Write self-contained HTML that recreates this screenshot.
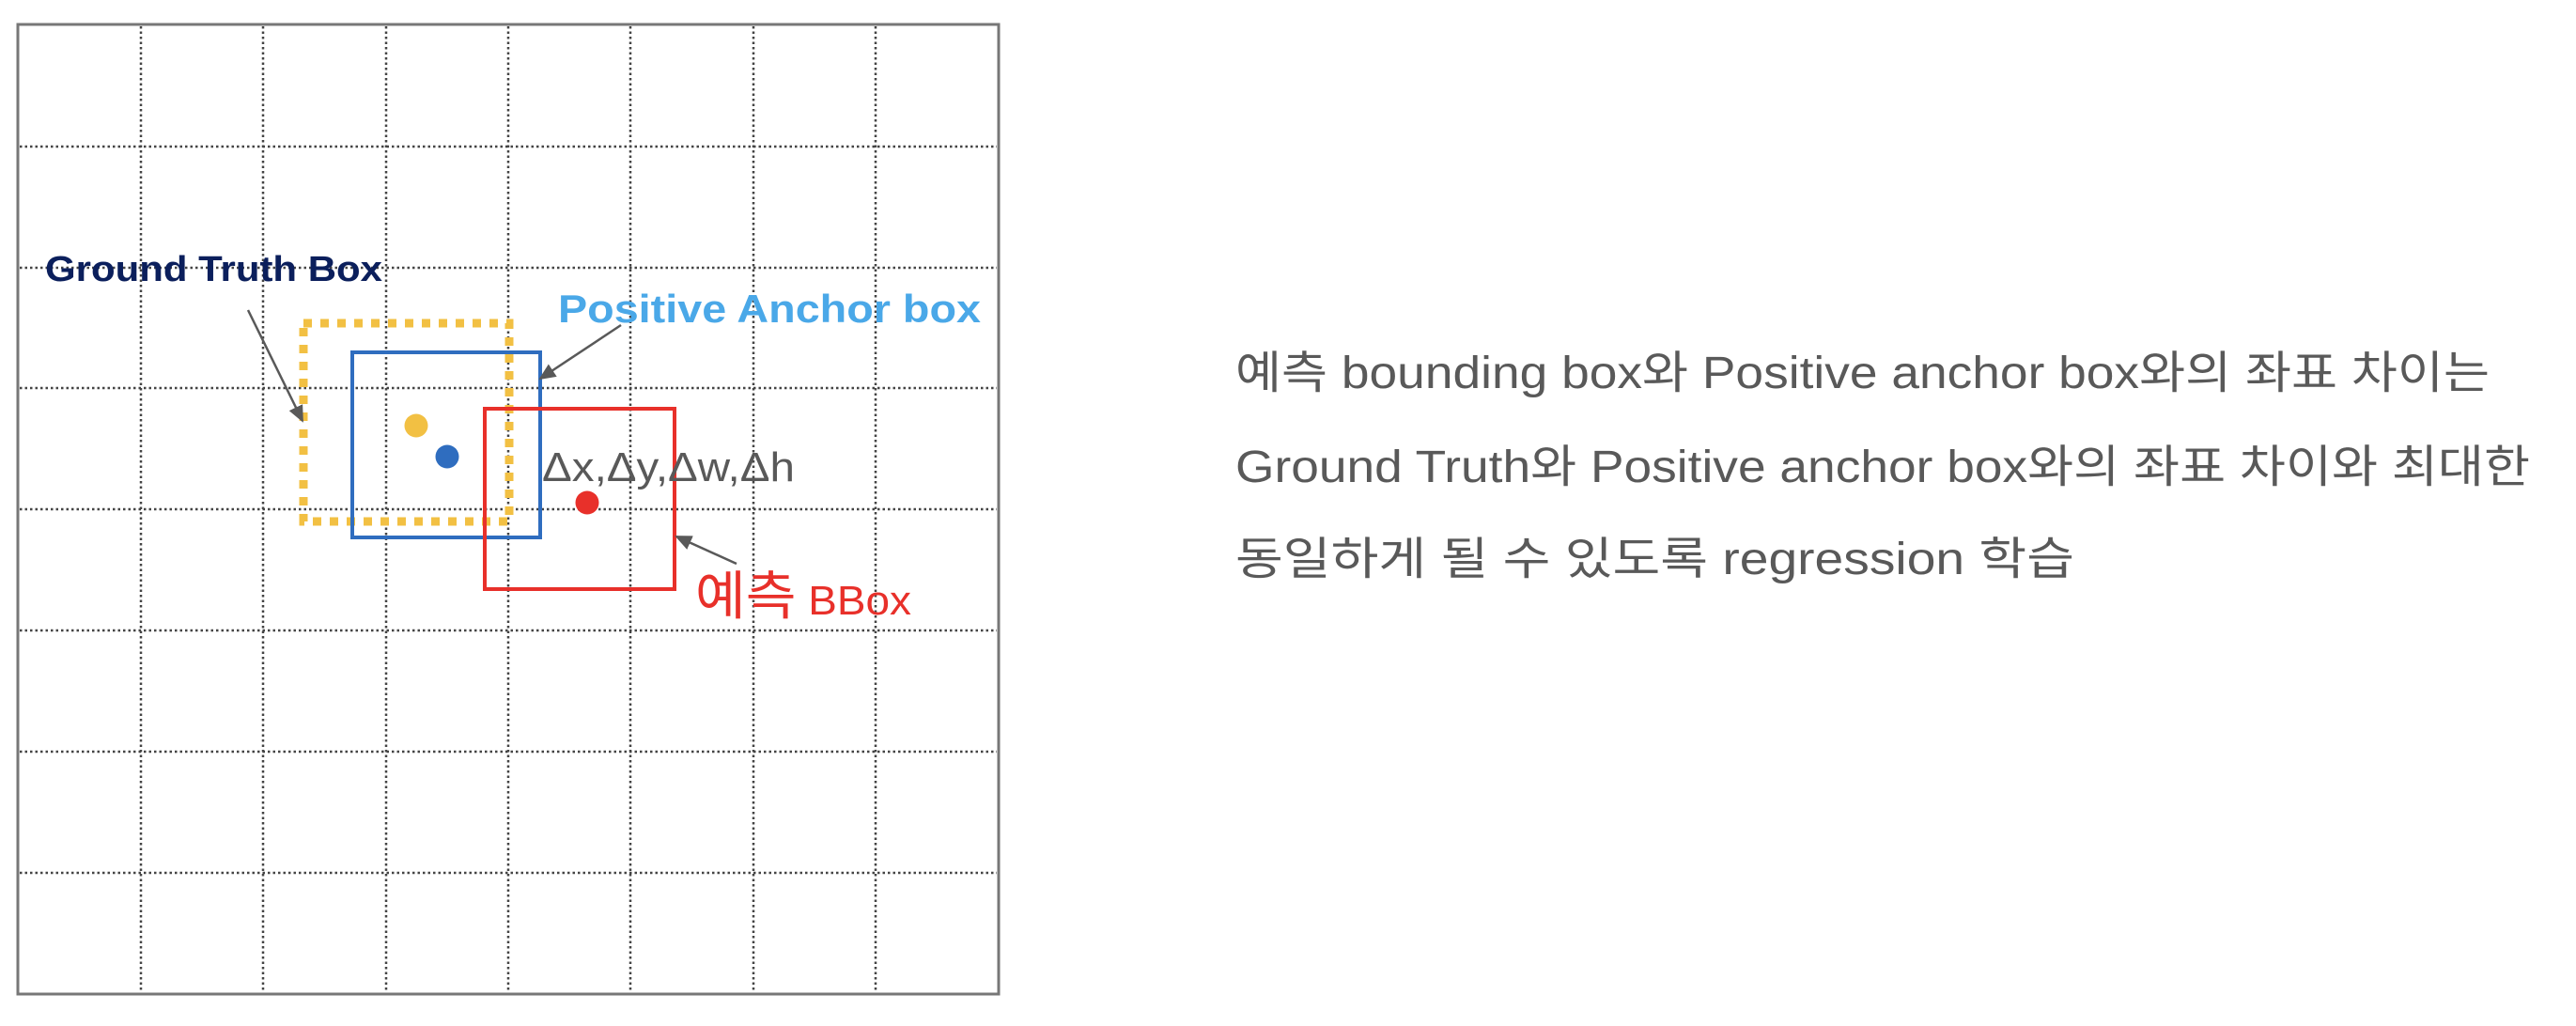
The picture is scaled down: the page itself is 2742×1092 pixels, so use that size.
<!DOCTYPE html>
<html><head><meta charset="utf-8"><style>
html,body{margin:0;padding:0;background:#fff;}
svg{display:block;}
</style></head><body>
<svg width="2742" height="1092" viewBox="0 0 2742 1092" xmlns="http://www.w3.org/2000/svg">
<defs>
<marker id="ah" markerWidth="18" markerHeight="16" refX="16" refY="8" orient="auto" markerUnits="userSpaceOnUse" viewBox="0 0 18 16">
<path d="M0,0 L18,8 L0,16 z" fill="#595959"/>
</marker>
</defs>
<g id="grid"></g>
<rect x="19" y="26" width="1044" height="1032" fill="none" stroke="#777" stroke-width="3"/>

<rect x="323" y="344" width="219" height="211" fill="none" stroke="#F2C043" stroke-width="9" stroke-dasharray="9 9"/>
<rect x="375" y="375" width="200" height="197" fill="none" stroke="#2F6DBF" stroke-width="4"/>
<rect x="516" y="435" width="202" height="192" fill="none" stroke="#E8302A" stroke-width="4"/>

<circle cx="443" cy="453" r="12.5" fill="#F2C043"/>
<circle cx="476" cy="486" r="12.5" fill="#2F6DBF"/>
<circle cx="625" cy="535" r="12.5" fill="#E8302A"/>

<line x1="264" y1="330" x2="322" y2="448" stroke="#595959" stroke-width="2.5" marker-end="url(#ah)"/>
<line x1="661" y1="346" x2="575" y2="403" stroke="#595959" stroke-width="2.5" marker-end="url(#ah)"/>
<line x1="784" y1="600" x2="720" y2="571" stroke="#595959" stroke-width="2.5" marker-end="url(#ah)"/>

<text x="48" y="299" font-family="Liberation Sans, sans-serif" font-weight="bold" font-size="38" fill="#0B1F5C" textLength="359" lengthAdjust="spacingAndGlyphs">Ground Truth Box</text>
<text x="594" y="343" font-family="Liberation Sans, sans-serif" font-weight="bold" font-size="42" fill="#4AA8E8" textLength="450" lengthAdjust="spacingAndGlyphs">Positive Anchor box</text>
<text x="577" y="512" font-family="Liberation Sans, sans-serif" font-size="44" fill="#595959" textLength="269" lengthAdjust="spacingAndGlyphs">Δx,Δy,Δw,Δh</text>
<text x="740" y="654" font-family="Liberation Sans, 'Noto Sans CJK KR', sans-serif" fill="#E8302A" textLength="230" lengthAdjust="spacingAndGlyphs"><tspan font-size="56">예측</tspan><tspan font-size="44"> BBox</tspan></text>

<g font-family="Liberation Sans, 'Noto Sans CJK KR', sans-serif" font-size="48" fill="#595959">
<text x="1315" y="413" textLength="1335" lengthAdjust="spacingAndGlyphs">예측 bounding box와 Positive anchor box와의 좌표 차이는</text>
<text x="1315" y="513" textLength="1378" lengthAdjust="spacingAndGlyphs">Ground Truth와 Positive anchor box와의 좌표 차이와 최대한</text>
<text x="1315" y="611" textLength="893" lengthAdjust="spacingAndGlyphs">동일하게 될 수 있도록 regression 학습</text>
</g>
</svg>
<script>
const colLines = [150, 280, 411, 541, 671, 802, 932];
const rowLines = [156, 285, 413, 542, 671, 800, 929];
const g = document.getElementById('grid');
const NS = 'http://www.w3.org/2000/svg';
colLines.forEach(function (x) {
  const l = document.createElementNS(NS, 'line');
  l.setAttribute('x1', x); l.setAttribute('x2', x);
  l.setAttribute('y1', 28); l.setAttribute('y2', 1056);
  l.setAttribute('stroke', '#444'); l.setAttribute('stroke-width', '2.5');
  l.setAttribute('stroke-dasharray', '2.5 3');
  
  
  g.appendChild(l);
});
rowLines.forEach(function (y) {
  const l = document.createElementNS(NS, 'line');
  l.setAttribute('y1', y); l.setAttribute('y2', y);
  l.setAttribute('x1', 21); l.setAttribute('x2', 1061);
  l.setAttribute('stroke', '#444'); l.setAttribute('stroke-width', '2.5');
  l.setAttribute('stroke-dasharray', '2.5 3');
  
  
  g.appendChild(l);
});
</script>
</body></html>
